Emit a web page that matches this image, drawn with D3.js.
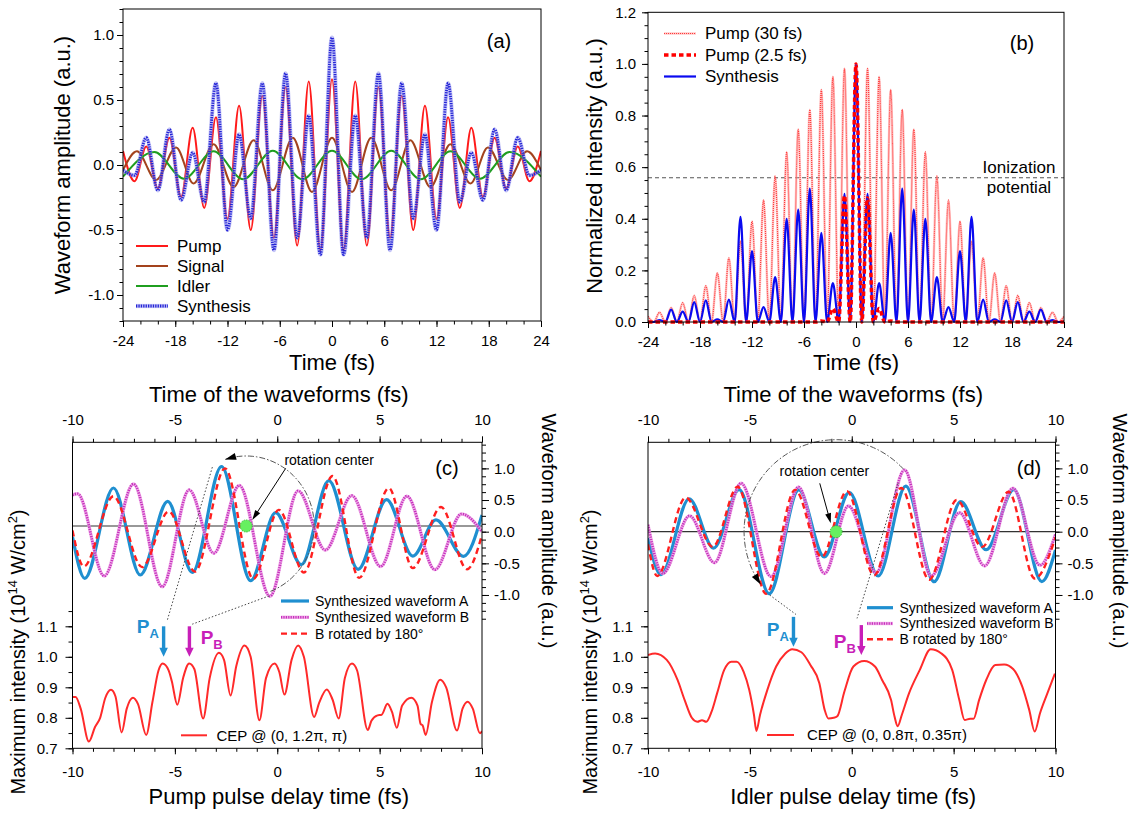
<!DOCTYPE html>
<html><head><meta charset="utf-8">
<script src="https://cdn.jsdelivr.net/npm/d3@7"></script>
<style>body{margin:0;background:#fff}svg{display:block}</style>
</head><body>
<svg id="fig" width="1132" height="815"></svg>
<script>
const FONT = "'Liberation Sans', Arial, Helvetica, sans-serif";

// ---------- (a) field waveforms and (b) intensities ----------
// extrema of the pump field, every half pump cycle (fs)
const fringeT = [-24, -22.67, -21.33, -20, -18.67, -17.33, -16, -14.67, -13.33, -12, -10.67, -9.33, -8, -6.67, -5.33, -4, -2.67, -1.33, 0, 1.33, 2.67, 4, 5.33, 6.67, 8, 9.33, 10.67, 12, 13.33, 14.67, 16, 17.33, 18.67, 20, 21.33, 22.67, 24];
// intensity minima between fringes (fs)
const troughT = [-23.33, -22, -20.67, -19.33, -18, -16.67, -15.33, -14, -12.67, -11.33, -10, -8.67, -7.33, -6, -4.67, -3.33, -2, -0.67, 0.67, 2, 3.33, 4.67, 6, 7.33, 8.67, 10, 11.33, 12.67, 14, 15.33, 16.67, 18, 19.33, 20.67, 22, 23.33];
const fringeFloor = 0;
const pumpField = [0.107, -0.125, 0.143, -0.18, 0.21, -0.245, 0.286, -0.33, 0.368, -0.415, 0.456, -0.50, 0.53, -0.56, 0.60, -0.62, 0.643, -0.655, 0.66, -0.655, 0.643, -0.62, 0.60, -0.56, 0.53, -0.50, 0.456, -0.415, 0.368, -0.33, 0.286, -0.245, 0.21, -0.18, 0.143, -0.125, 0.107];
const synthField = [-0.04, -0.08, 0.21, -0.195, 0.275, -0.27, 0.095, -0.285, 0.63, -0.50, 0.235, -0.41, 0.63, -0.655, 0.705, -0.56, 0.38, -0.69, 0.98, -0.69, 0.38, -0.56, 0.705, -0.655, 0.63, -0.41, 0.235, -0.50, 0.63, -0.285, 0.095, -0.27, 0.275, -0.195, 0.21, -0.08, -0.04];
const signalT = [-24, -22.4, -20.2, -17.9, -15.9, -13.6, -11.3, -9.0, -6.8, -4.5, -2.3, 0, 2.3, 4.5, 6.8, 9.0, 11.3, 13.6, 15.9, 17.9, 20.2, 22.4, 24];
const signalField = [-0.04, 0.105, -0.115, 0.135, -0.143, 0.16, -0.17, 0.19, -0.195, 0.21, -0.207, 0.21, -0.207, 0.21, -0.195, 0.19, -0.17, 0.16, -0.143, 0.135, -0.115, 0.105, -0.04];
const idlerT = [-24, -20.4, -17, -13.6, -10.2, -6.8, -3.4, 0, 3.4, 6.8, 10.2, 13.6, 17, 20.4, 24];
const idlerField = [-0.09, 0.10, -0.105, 0.105, -0.11, 0.11, -0.11, 0.11, -0.11, 0.11, -0.11, 0.105, -0.105, 0.10, -0.09];
const pump30Peak = [0.022, 0.037, 0.055, 0.075, 0.103, 0.14, 0.189, 0.248, 0.313, 0.39, 0.472, 0.565, 0.659, 0.746, 0.823, 0.90, 0.95, 0.982, 1.0, 0.982, 0.95, 0.90, 0.823, 0.746, 0.659, 0.565, 0.472, 0.39, 0.313, 0.248, 0.189, 0.14, 0.103, 0.075, 0.055, 0.037, 0.022];
const synthPeak = [0.002, 0.007, 0.048, 0.04, 0.077, 0.084, 0.01, 0.087, 0.407, 0.275, 0.058, 0.174, 0.40, 0.436, 0.517, 0.345, 0.151, 0.497, 1.0, 0.497, 0.151, 0.345, 0.517, 0.436, 0.40, 0.174, 0.058, 0.275, 0.407, 0.087, 0.01, 0.084, 0.077, 0.04, 0.048, 0.007, 0.002];
const pumpShortT = [-24, -4.67, -4, -3.33, -2.67, -2, -1.33, -0.67, 0, 0.67, 1.33, 2, 2.67, 3.33, 4, 4.67, 24];
const pumpShortI = [0, 0, 0.004, 0, 0.052, 0, 0.49, 0, 1.0, 0, 0.48, 0, 0.052, 0, 0.004, 0, 0];
const ionizationLevel = 0.559;

// ---------- (c) pump delay scan: waveforms [t, amplitude] ----------
const waveAc = [[-10, -0.08], [-9.4, -0.737], [-8.0, 0.69], [-6.69, -0.684], [-5.35, 0.48], [-4.15, -0.645], [-2.72, 1.03], [-1.3, -0.775], [-0.08, 0.30], [1.18, -0.52], [2.52, 0.805], [3.95, -0.595], [5.34, 0.505], [6.62, -0.385], [7.75, 0.185], [9.1, -0.39], [10, 0.265]];
const waveBc = [[-10, 0.58], [-9.75, 0.60], [-8.45, -0.70], [-7.02, 0.753], [-5.62, -0.87], [-4.3, 0.66], [-3.1, -0.34], [-1.85, 0.73], [-0.36, -1.02], [1.02, 0.645], [2.35, -0.29], [3.64, 0.57], [5.05, -0.55], [6.33, 0.562], [7.7, -0.60], [9.0, 0.28], [10, 0.0]];
const waveBrc = [[-10, 0.02], [-9.45, -0.55], [-8.0, 0.56], [-6.6, -0.56], [-5.3, 0.32], [-4.02, -0.63], [-2.55, 1.0], [-1.17, -0.745], [0.08, 0.345], [1.3, -0.645], [2.7, 0.88], [4.0, -0.73], [5.45, 0.69], [6.62, -0.575], [8.0, 0.39], [9.27, -0.594], [10, -0.05]];
// maximum intensity vs pump delay [delay fs, 1e14 W/cm2]
const cepC = [[-10.0, 0.868], [-9.85, 0.868], [-9.6, 0.83], [-9.2, 0.722], [-8.9, 0.77], [-8.65, 0.80], [-8.4, 0.865], [-8.12, 0.892], [-7.9, 0.87], [-7.6, 0.752], [-7.35, 0.83], [-7.05, 0.866], [-6.8, 0.845], [-6.4, 0.744], [-6.1, 0.85], [-5.8, 0.955], [-5.6, 0.978], [-5.3, 0.955], [-5.15, 0.92], [-4.88, 0.843], [-4.6, 0.93], [-4.3, 0.978], [-4.05, 0.96], [-3.62, 0.798], [-3.3, 0.93], [-2.85, 1.013], [-2.6, 0.99], [-2.28, 0.873], [-2.0, 0.97], [-1.6, 1.037], [-1.3, 1.0], [-0.87, 0.792], [-0.55, 0.93], [-0.13, 0.978], [0.1, 0.95], [0.35, 0.876], [0.7, 0.99], [1.02, 1.037], [1.3, 1.0], [1.8, 0.803], [2.05, 0.85], [2.42, 0.893], [2.7, 0.86], [3.0, 0.798], [3.3, 0.93], [3.65, 0.978], [3.9, 0.955], [4.42, 0.76], [4.6, 0.79], [4.9, 0.808], [5.1, 0.81], [5.38, 0.846], [5.6, 0.82], [5.84, 0.767], [6.1, 0.84], [6.55, 0.866], [6.85, 0.84], [7.0, 0.78], [7.1, 0.775], [7.25, 0.744], [7.55, 0.85], [7.96, 0.925], [8.25, 0.9], [8.78, 0.758], [9.05, 0.83], [9.3, 0.853], [9.55, 0.83], [9.9, 0.749], [10.0, 0.757]];

// ---------- (d) idler delay scan ----------
const waveAd = [[-10, -0.10], [-9.36, -0.68], [-7.98, 0.52], [-6.78, -0.26], [-5.53, 0.665], [-4.05, -0.98], [-2.6, 0.66], [-1.35, -0.40], [-0.12, 0.62], [1.3, -0.70], [2.65, 0.72], [4.04, -0.79], [5.35, 0.475], [6.6, -0.285], [7.95, 0.665], [9.33, -0.79], [10, -0.29]];
const waveBd = [[-10, 0.11], [-9.27, -0.66], [-7.96, 0.25], [-6.74, -0.49], [-5.43, 0.765], [-3.96, -0.71], [-2.61, 0.705], [-1.34, -0.66], [-0.16, 0.405], [1.2, -0.65], [2.59, 0.975], [3.9, -0.70], [5.29, 0.30], [6.52, -0.54], [7.91, 0.685], [9.24, -0.53], [10, -0.04]];
const waveBrd = [[-10, -0.2], [-9.55, -0.70], [-8.15, 0.54], [-6.82, -0.24], [-5.6, 0.71], [-4.2, -0.98], [-2.78, 0.66], [-1.48, -0.40], [-0.24, 0.64], [1.1, -0.69], [2.43, 0.69], [3.8, -0.76], [5.15, 0.50], [6.4, -0.24], [7.7, 0.63], [8.98, -0.74], [10, -0.09]];
const cepD = [[-10.0, 1.006], [-9.65, 1.011], [-9.08, 0.99], [-8.55, 0.924], [-8.2, 0.858], [-7.85, 0.80], [-7.58, 0.787], [-7.35, 0.792], [-7.14, 0.787], [-6.88, 0.82], [-6.61, 0.88], [-6.26, 0.957], [-5.91, 0.984], [-5.65, 0.984], [-5.3, 0.95], [-5.03, 0.891], [-4.8, 0.81], [-4.68, 0.757], [-4.5, 0.81], [-4.15, 0.89], [-3.71, 0.968], [-3.26, 1.011], [-2.92, 1.025], [-2.47, 1.015], [-2.03, 0.973], [-1.59, 0.913], [-1.33, 0.826], [-1.15, 0.798], [-0.89, 0.80], [-0.71, 0.805], [-0.36, 0.886], [0.08, 0.968], [0.61, 0.986], [1.14, 0.968], [1.49, 0.924], [1.93, 0.858], [2.1, 0.804], [2.25, 0.772], [2.46, 0.81], [2.81, 0.88], [3.34, 0.957], [3.87, 1.025], [4.4, 1.011], [4.93, 0.957], [5.28, 0.858], [5.54, 0.793], [5.81, 0.797], [5.98, 0.797], [6.25, 0.858], [6.6, 0.924], [7.04, 0.973], [7.48, 0.975], [7.92, 0.96], [8.37, 0.902], [8.71, 0.826], [8.98, 0.755], [9.24, 0.815], [9.6, 0.88], [9.97, 0.945]];

// rotation centres, reference levels and marked intensity peaks
const refLevelC = 0.09, refLevelD = 0.0;
const rotCenterC = [-1.52, 0.09], rotCenterD = [-0.77, 0.0];
const peakMarksC = [{name: "A", t: -5.55, top: 1.10, tip: 1.0, lx: -6.86, ly: 1.079}, {name: "B", t: -4.29, top: 1.10, tip: 1.0, lx: -3.74, ly: 1.043}];
const peakMarksD = [{name: "A", t: -2.86, top: 1.131, tip: 1.033, lx: -4.17, ly: 1.068}, {name: "B", t: 0.47, top: 1.104, tip: 1.006, lx: -0.88, ly: 1.028}];

// ---------- tick values ----------
const rng = (a, b, s) => d3.range(Math.round((b - a) / s) + 1).map(i => +(a + i * s).toFixed(4));
const ticksTimeAB = rng(-24, 24, 6), ticksTimeABMinor = rng(-24, 24, 2);
const ticksAmpA = rng(-1, 1, 0.5), ticksAmpAMinor = rng(-1.2, 1.2, 0.1);
const ticksIntB = rng(0, 1.2, 0.2), ticksIntBMinor = rng(0, 1.2, 0.05);
const ticksDelay = rng(-10, 10, 5), ticksDelayMinor = rng(-10, 10, 1);
const ticksMaxI = rng(0.7, 1.1, 0.1), ticksMaxIMinor = rng(0.7, 1.15, 0.05);
const ticksWave = rng(-1, 1, 0.5), ticksWaveMinor = rng(-1.375, 1.375, 0.125);

// ---------- colours and line styles ----------
const C_BLUE = "#1f8fd0", C_MAG = "#c81fb8";
const ST = {
  pump: [{c: "#ff1a1a", w: 2}],
  signal: [{c: "#a3431d", w: 2}],
  idler: [{c: "#1f9e1f", w: 2}],
  synthA: [{c: "#8c8cf0", w: 4.2, o: 0.5}, {c: "#2424d6", w: 2.8, d: "1.3 1.1"}],
  pump30: [{c: "#ffa0a0", w: 2.4, o: 0.6}, {c: "#ff3b3b", w: 1.2, d: "1 1"}],
  pump25: [{c: "#ff0000", w: 3.5, d: "4.5 3"}],
  synthB: [{c: "#0a0af0", w: 2.2}],
  waveA: [{c: C_BLUE, w: 3.2}],
  waveB: [{c: "#ec9ce3", w: 3.4, o: 0.8}, {c: "#c62fbd", w: 2.6, d: "1.2 1.2"}],
  waveBr: [{c: "#ff1f1f", w: 2.4, d: "6 4"}],
  cep: [{c: "#ff2a2a", w: 2}]
};

const svg = d3.select("#fig");
svg.append("rect").attr("width", 1132).attr("height", 815).attr("fill", "#fff");
const defs = svg.append("defs");

function strokePath(g, d, st) {
  st.forEach(s => g.append("path").attr("d", d).attr("fill", "none")
    .attr("stroke", s.c).attr("stroke-width", s.w).attr("stroke-opacity", s.o ?? 1)
    .attr("stroke-dasharray", s.d || null).attr("stroke-linejoin", "round"));
}
function txt(g, x, y, s, o = {}) {
  return g.append("text").attr("x", x).attr("y", y).attr("font-family", FONT)
    .attr("font-size", o.fs || 15).attr("text-anchor", o.anchor || "start")
    .attr("fill", o.fill || "#000").attr("font-weight", o.bold ? "bold" : null)
    .attr("dy", o.dy || null).text(s);
}
function rtxt(x, y, angle, s, fs) {
  return svg.append("text").attr("transform", `translate(${x},${y}) rotate(${angle})`)
    .attr("text-anchor", "middle").attr("font-family", FONT).attr("font-size", fs).attr("fill", "#000").text(s);
}
function frame(b) {
  svg.append("rect").attr("x", b.x0).attr("y", b.y0).attr("width", b.x1 - b.x0).attr("height", b.y1 - b.y0)
    .attr("fill", "none").attr("stroke", "#000").attr("stroke-width", 1);
}
function clip(id, b, pad) {
  defs.append("clipPath").attr("id", id).append("rect")
    .attr("x", b.x0).attr("y", b.y0 - pad).attr("width", b.x1 - b.x0).attr("height", b.y1 - b.y0 + 2 * pad);
  return svg.append("g").attr("clip-path", `url(#${id})`);
}
function axis(side, scale, at, major, minor, fmt, o) {
  const gen = {left: d3.axisLeft, right: d3.axisRight, top: d3.axisTop, bottom: d3.axisBottom}[side];
  const tr = (side === "left" || side === "right") ? `translate(${at},0)` : `translate(0,${at})`;
  const style = g => {
    g.attr("font-family", FONT).attr("font-size", o.fs || 15);
    g.select(".domain").remove();
    g.selectAll("line").attr("stroke", "#000").attr("stroke-width", 1);
    g.selectAll("text").attr("fill", "#000");
  };
  svg.append("g").attr("transform", tr)
    .call(gen(scale).tickValues(minor).tickSize(o.minor).tickFormat(() => "")).call(style);
  svg.append("g").attr("transform", tr)
    .call(gen(scale).tickValues(major).tickSize(o.major).tickPadding(o.pad).tickFormat(fmt)).call(style);
}
function legendRow(x0, x1, y, tx, label, st, fs) {
  const g = svg.append("g");
  strokePath(g, `M${x0},${y}H${x1}`, st);
  txt(g, tx, y, label, {fs, dy: "0.35em"});
}
function head(g, x, y, dx, dy, len, wid, color) {
  const n = Math.hypot(dx, dy), ux = dx / n, uy = dy / n;
  const bx = x - ux * len, by = y - uy * len;
  g.append("path").attr("d", `M${x},${y}L${bx - uy * wid / 2},${by + ux * wid / 2}L${bx + uy * wid / 2},${by - ux * wid / 2}Z`)
    .attr("fill", color).attr("stroke", "none");
}
const fmt1 = d => d.toFixed(1), fmt0 = d => String(d);
const zip = (t, v) => t.map((ti, i) => [ti, v[i]]);
const fringePts = peaks => zip(fringeT, peaks).concat(troughT.map(t => [t, fringeFloor])).sort((p, q) => p[0] - q[0]);
const lineOf = (xs, ys) => d3.line().x(d => xs(d[0])).y(d => ys(d[1])).curve(d3.curveMonotoneX);

// ===================== (a) =====================
const boxA = {x0: 123, x1: 541, y0: 9, y1: 321};
const xA = d3.scaleLinear([-24, 24], [boxA.x0, boxA.x1]);
const yA = d3.scaleLinear([-1.2, 1.2], [boxA.y1, boxA.y0]);
{
  const g = clip("clipA", boxA, 0);
  const ln = lineOf(xA, yA);
  strokePath(g, ln(zip(fringeT, pumpField)), ST.pump);
  strokePath(g, ln(zip(signalT, signalField)), ST.signal);
  strokePath(g, ln(zip(idlerT, idlerField)), ST.idler);
  strokePath(g, ln(zip(fringeT, synthField)), ST.synthA);
  frame(boxA);
  axis("left", yA, boxA.x0, ticksAmpA, ticksAmpAMinor, fmt1, {major: 6, minor: 3.5, pad: 3});
  axis("bottom", xA, boxA.y1, ticksTimeAB, ticksTimeABMinor, fmt0, {major: 6, minor: 3.5, pad: 8});
  txt(svg, 332, 370, "Time (fs)", {fs: 22, anchor: "middle"});
  rtxt(69.5, 165, -90, "Waveform amplitude (a.u.)", 22);
  txt(svg, 499, 48, "(a)", {fs: 20, anchor: "middle"});
  [["Pump", ST.pump], ["Signal", ST.signal], ["Idler", ST.idler], ["Synthesis", ST.synthA]]
    .forEach(([l, s], i) => legendRow(136, 168, 246 + i * 20, 177, l, s, 17));
}

// ===================== (b) =====================
const boxB = {x0: 648, x1: 1064, y0: 12.3, y1: 322};
const xB = d3.scaleLinear([-24, 24], [boxB.x0, boxB.x1]);
const yB = d3.scaleLinear([0, 1.2], [boxB.y1, boxB.y0]);
{
  svg.append("line").attr("x1", boxB.x0).attr("x2", boxB.x1)
    .attr("y1", yB(ionizationLevel)).attr("y2", yB(ionizationLevel))
    .attr("stroke", "#555").attr("stroke-width", 1.2).attr("stroke-dasharray", "4 3");
  const g = clip("clipB", boxB, 3);
  const ln = lineOf(xB, yB);
  strokePath(g, ln(fringePts(pump30Peak)), ST.pump30);
  strokePath(g, ln(fringePts(synthPeak)), ST.synthB);
  strokePath(g, ln(zip(pumpShortT, pumpShortI)), ST.pump25);
  frame(boxB);
  axis("left", yB, boxB.x0, ticksIntB, ticksIntBMinor, fmt1, {major: 6, minor: 3.5, pad: 6});
  axis("bottom", xB, boxB.y1, ticksTimeAB, ticksTimeABMinor, fmt0, {major: 6, minor: 3.5, pad: 8});
  txt(svg, 856, 370, "Time (fs)", {fs: 22, anchor: "middle"});
  rtxt(602, 166, -90, "Normalized intensity (a.u.)", 22);
  txt(svg, 1022, 50, "(b)", {fs: 20, anchor: "middle"});
  txt(svg, 1019, 173, "Ionization", {fs: 17, anchor: "middle"});
  txt(svg, 1019, 193, "potential", {fs: 17, anchor: "middle"});
  [["Pump (30 fs)", ST.pump30], ["Pump (2.5 fs)", ST.pump25], ["Synthesis", ST.synthB]]
    .forEach(([l, s], i) => legendRow(664, 696, 33.5 + i * 21.5, 705, l, s, 17));
}

// ===================== (c) and (d) =====================
function scanPanel(o) {
  const b = o.box;
  const x = d3.scaleLinear([-10, 10], [b.x0, b.x1]);
  const yI = d3.scaleLinear([0.7, 1.7033], [b.y1, b.y0]);
  const yW = d3.scaleLinear([-3.422, 1.412], [b.y1, b.y0]);
  // reference level
  svg.append("line").attr("x1", b.x0).attr("x2", b.x1).attr("y1", yW(o.ref)).attr("y2", yW(o.ref))
    .attr("stroke", "#333").attr("stroke-width", 1.2);
  const g = clip(o.id, b, 0);
  const lw = lineOf(x, yW), li = lineOf(x, yI);
  strokePath(g, lw(o.A), ST.waveA);
  strokePath(g, lw(o.B), ST.waveB);
  strokePath(g, lw(o.Br), ST.waveBr);
  strokePath(g, li(o.cep), ST.cep);

  const ann = svg.append("g");
  // rotation arc
  const cx = x(o.rot[0]), cy = yW(o.rot[1]);
  const pts = d3.range(0, 61).map(i => {
    const th = (o.arc.a0 + (o.arc.a1 - o.arc.a0) * i / 60) * Math.PI / 180;
    return [cx + o.arc.rx * Math.cos(th), cy + o.arc.ry * Math.sin(th)];
  });
  ann.append("path").attr("d", d3.line()(pts)).attr("fill", "none").attr("stroke", "#555")
    .attr("stroke-width", 1).attr("stroke-dasharray", "6 2 1.5 2");
  const pe = pts[60], pp = pts[58];
  head(ann, pe[0], pe[1], pe[0] - pp[0], pe[1] - pp[1], 11, 7, "#000");
  // dotted guides to the intensity peaks
  o.guides.forEach(gd => ann.append("line").attr("x1", x(gd[0])).attr("y1", yW(gd[1])).attr("x2", x(gd[2])).attr("y2", yI(gd[3]))
    .attr("stroke", "#444").attr("stroke-width", 1).attr("stroke-dasharray", "1.5 2"));
  // rotation centre label and pointer
  txt(ann, x(o.rcText[0]), yW(o.rcText[1]), "rotation center", {fs: 14});
  const ax0 = x(o.rcArrow[0]), ay0 = yW(o.rcArrow[1]), ax1 = x(o.rcArrow[2]), ay1 = yW(o.rcArrow[3]);
  ann.append("line").attr("x1", ax0).attr("y1", ay0).attr("x2", ax1 - (ax1 - ax0) * 0.12).attr("y2", ay1 - (ay1 - ay0) * 0.12)
    .attr("stroke", "#000").attr("stroke-width", 1);
  head(ann, ax1, ay1, ax1 - ax0, ay1 - ay0, 10, 6, "#000");
  ann.append("circle").attr("cx", cx).attr("cy", cy).attr("r", 6)
    .attr("fill", "#66f060").attr("stroke", "#3cc03c").attr("stroke-width", 1).attr("stroke-dasharray", "1.5 1");
  // peak markers
  o.marks.forEach(m => {
    const col = m.name === "A" ? C_BLUE : C_MAG;
    const xm = x(m.t), yt = yI(m.top), yp = yI(m.tip);
    ann.append("line").attr("x1", xm).attr("x2", xm).attr("y1", yt).attr("y2", yp - 7)
      .attr("stroke", col).attr("stroke-width", 3.4);
    head(ann, xm, yp, 0, 1, 9, 8.5, col);
    const t = txt(ann, x(m.lx), yI(m.ly), "P", {fs: 19, bold: true, fill: col});
    t.append("tspan").attr("font-size", 13).attr("dy", 5).text(m.name);
  });
  // panel tag
  txt(svg, x(o.tag[0]), yW(o.tag[1]), o.tagText, {fs: 20, anchor: "middle"});
  // legends
  [["Synthesized waveform A", ST.waveA], ["Synthesized waveform B", ST.waveB], ["B rotated by 180°", ST.waveBr]]
    .forEach(([l, s], i) => legendRow(o.leg.x0, o.leg.x1, o.leg.y + i * o.leg.dy, o.leg.tx, l, s, 14));
  legendRow(o.cepLeg.x0, o.cepLeg.x1, o.cepLeg.y, o.cepLeg.tx, o.cepLabel, ST.cep, 15);

  frame(b);
  axis("bottom", x, b.y1, ticksDelay, ticksDelayMinor, fmt0, {major: 6, minor: 3.5, pad: 12});
  axis("top", x, b.y0, ticksDelay, ticksDelayMinor, fmt0, {major: 6, minor: 3.5, pad: 11});
  axis("left", yI, b.x0, ticksMaxI, ticksMaxIMinor, fmt1, {major: 7, minor: 4, pad: 8});
  axis("right", yW, b.x1, ticksWave, ticksWaveMinor, fmt1, {major: 7, minor: 4, pad: 5});

  const midX = (b.x0 + b.x1) / 2;
  txt(svg, midX + 1.5, 402, "Time of the waveforms (fs)", {fs: 22, anchor: "middle"});
  txt(svg, midX + 1.5, 804, o.xTitle, {fs: 22, anchor: "middle"});
  const lt = svg.append("text").attr("transform", `translate(${o.leftTitleX},652) rotate(-90)`)
    .attr("text-anchor", "middle").attr("font-family", FONT).attr("font-size", 20).attr("fill", "#000");
  lt.append("tspan").text("Maximum intensity (10");
  lt.append("tspan").attr("font-size", 13).attr("dy", -8).text("14");
  lt.append("tspan").attr("dy", 8).text(" W/cm");
  lt.append("tspan").attr("font-size", 13).attr("dy", -8).text("2");
  lt.append("tspan").attr("dy", 8).text(")");
  rtxt(o.rightTitleX, 531, 90, "Waveform amplitude (a.u.)", 20);
}

scanPanel({
  id: "clipC", box: {x0: 72.5, x1: 482, y0: 442.3, y1: 748.3},
  A: waveAc, B: waveBc, Br: waveBrc, cep: cepC, ref: refLevelC, rot: rotCenterC,
  arc: {rx: 68, ry: 70, a0: 69, a1: -108},
  guides: [[-3.17, 1.02, -5.37, 1.12], [-0.40, -1.015, -4.15, 1.107]],
  rcText: [0.35, 1.05], rcArrow: [0.41, 1.0, -1.22, 0.185],
  marks: peakMarksC, tag: [8.29, 0.89], tagText: "(c)",
  leg: {x0: 281, x1: 309, tx: 315, y: 601, dy: 16.3},
  cepLeg: {x0: 181, x1: 207, tx: 216.5, y: 735.3}, cepLabel: "CEP @ (0, 1.2π, π)",
  xTitle: "Pump pulse delay time (fs)", leftTitleX: 25, rightTitleX: 541.5
});
scanPanel({
  id: "clipD", box: {x0: 648, x1: 1055.5, y0: 442.3, y1: 748.3},
  A: waveAd, B: waveBd, Br: waveBrd, cep: cepD, ref: refLevelD, rot: rotCenterD,
  arc: {rx: 92, ry: 92, a0: -43, a1: -215},
  guides: [[-4.03, -1.0, -2.74, 1.139], [2.27, 0.764, 0.26, 1.126]],
  rcText: [-3.54, 0.887], rcArrow: [-1.57, 0.764, -1.03, 0.133],
  marks: peakMarksD, tag: [8.7, 0.89], tagText: "(d)",
  leg: {x0: 867, x1: 893, tx: 899.5, y: 607.7, dy: 15.8},
  cepLeg: {x0: 767, x1: 794, tx: 807, y: 735}, cepLabel: "CEP @ (0, 0.8π, 0.35π)",
  xTitle: "Idler pulse delay time (fs)", leftTitleX: 597, rightTitleX: 1113
});
</script>
</body></html>
